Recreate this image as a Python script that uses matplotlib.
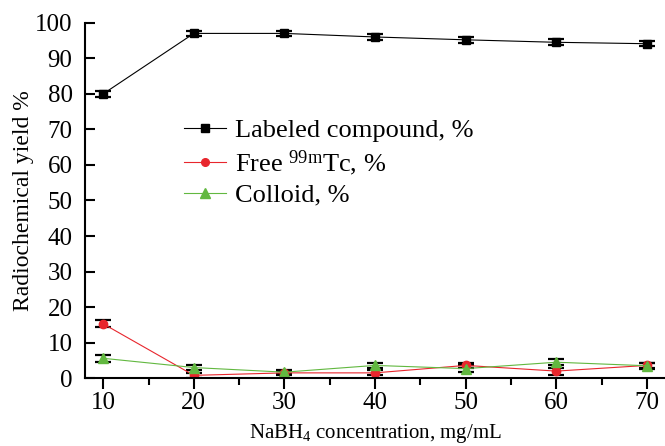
import matplotlib
matplotlib.use("Agg")
import matplotlib.pyplot as plt
from matplotlib.lines import Line2D
from matplotlib.ticker import MultipleLocator

plt.rcParams['font.family'] = ['Liberation Serif', 'DejaVu Serif']
plt.rcParams['mathtext.fontset'] = 'custom'
plt.rcParams['mathtext.rm'] = 'Liberation Serif'
plt.rcParams['mathtext.it'] = 'Liberation Serif:italic'

# NaBH4 concentration, mg/mL
conc = [10, 20, 30, 40, 50, 60, 70]
labeled = [80.0, 97.0, 97.0, 96.0, 95.2, 94.5, 94.1]
labeled_err = [0.8, 0.8, 0.8, 0.8, 0.8, 0.8, 0.7]
free_tc = [15.3, 0.8, 1.5, 1.5, 3.6, 2.0, 3.6]
free_err = [1.0, 0.8, 0.6, 0.7, 0.8, 1.0, 0.8]
colloid = [5.6, 3.0, 1.7, 3.6, 2.7, 4.5, 3.5]
colloid_err = [0.9, 0.8, 0.6, 0.8, 0.9, 0.9, 0.8]

names = ['Labeled compound, %', r'Free $^{\mathrm{99m}}$Tc, %', 'Colloid, %']
colors = ['black', '#e8262d', '#62b840']
markers = ['s', 'o', '^']
sizes = [6, 6, 7]

fig = plt.figure(figsize=(6.65, 4.46), dpi=100)
ax = fig.add_axes([0.128, 0.152, 0.872, 0.797])

series = [(labeled, labeled_err), (free_tc, free_err), (colloid, colloid_err)]
for (vals, errs), c, m, ms in zip(series, colors, markers, sizes):
    ax.errorbar(conc, vals, yerr=errs, color=c, lw=0.8, marker=m, ms=ms,
                mfc=c, mec=c, ecolor='black', elinewidth=1.2, capsize=5.5,
                capthick=1.6)

ax.set_xlim(8, 72)
ax.set_ylim(0, 100)
ax.xaxis.set_major_locator(MultipleLocator(10))
ax.xaxis.set_minor_locator(MultipleLocator(5))
ax.yaxis.set_major_locator(MultipleLocator(10))

for s in ['top', 'right']:
    ax.spines[s].set_visible(False)
for s in ['left', 'bottom']:
    ax.spines[s].set_linewidth(1.5)

ax.tick_params(axis='x', which='major', direction='out', length=8, width=1.5,
               labelsize=18, pad=2)
ax.tick_params(axis='x', which='minor', direction='out', length=5, width=1.5)
ax.tick_params(axis='y', which='major', direction='in', length=7, width=1.5,
               labelsize=18, pad=9)

ax.set_ylabel('Radiochemical yield %', fontsize=17, labelpad=1)
ax.set_xlabel(r'NaBH$_4$ concentration, mg/mL', fontsize=15, labelpad=6)

# legend handles: plain line + marker, no error bars
handles = [Line2D([], [], color=c, lw=0.8, marker=m, ms=ms - 0.5, mfc=c, mec=c)
           for c, m, ms in zip(colors, markers, sizes)]
ax.legend(handles, names, loc='upper left', bbox_to_anchor=(0.17, 0.73),
          frameon=False, fontsize=19, handlelength=1.6, handletextpad=0.35,
          labelspacing=0.22, borderaxespad=0, borderpad=0)

fig.savefig('out.png', dpi=100)
